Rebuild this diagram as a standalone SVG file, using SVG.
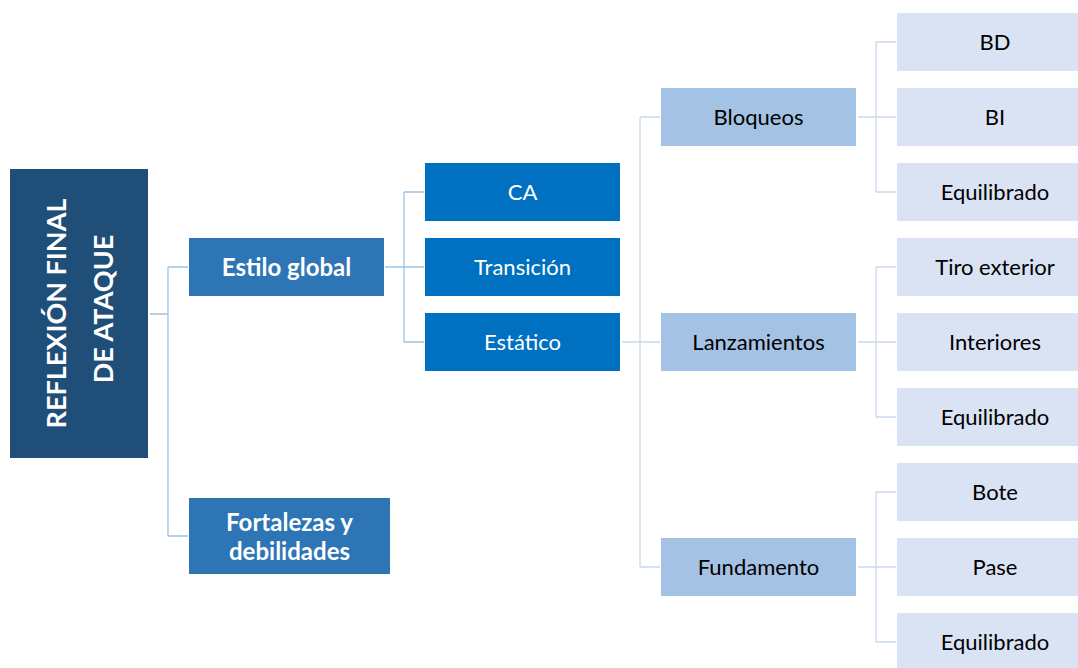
<svg xmlns="http://www.w3.org/2000/svg" width="1078" height="668" viewBox="0 0 1078 668">
<style>
text{font-family:Lato,"Liberation Sans",sans-serif;text-anchor:middle;dominant-baseline:central}
.root{fill:#1f4e79}
.l1{fill:#2e75b6}
.l2{fill:#0070c0}
.l3{fill:#a4c2e4}
.l4{fill:#dae3f3}
.w{fill:#ffffff;font-size:22px}
.wb{fill:#ffffff;font-size:24px;font-weight:bold}
.k{fill:#000000;font-size:22px}
.c1{fill:none;stroke:#9dc3e6;stroke-width:1.3}
.c2{fill:none;stroke:#c9d8ef;stroke-width:1.3}
</style>
<rect width="1078" height="668" fill="#ffffff"/>
<g id="connectors">
<path class="c1" d="M150 314H168M168 267V536M168 267H188M168 536H188"/>
<path class="c1" d="M385 267H404M404 192V342M404 192H424M404 267H424M404 342H424"/>
<path class="c2" d="M622 342H640M640 117V567M640 117H660M640 342H660M640 567H660"/>
<path class="c2" d="M858 117H876M876 42V192M876 42H896M876 117H896M876 192H896"/>
<path class="c2" d="M858 342H876M876 267V417M876 267H896M876 342H896M876 417H896"/>
<path class="c2" d="M858 567H876M876 492V642M876 492H896M876 567H896M876 642H896"/>
</g>
<g id="root">
<rect class="root" x="10" y="169" width="138" height="289"/>
<text fill="#ffffff" font-size="27" font-weight="bold" transform="translate(55 313.5) rotate(-90)">REFLEXIÓN FINAL</text>
<text fill="#ffffff" font-size="27" font-weight="bold" transform="translate(102 309) rotate(-90)">DE ATAQUE</text>
</g>
<g id="estilo-global"><rect class="l1" x="189" y="238" width="195" height="58"/><text class="wb" x="286.5" y="266.5">Estilo global</text></g>
<g id="fortalezas"><rect class="l1" x="189" y="498" width="201" height="76"/><text class="wb" x="289.5" y="521">Fortalezas y</text><text class="wb" x="289.5" y="550">debilidades</text></g>
<g id="ca"><rect class="l2" x="425" y="163" width="195" height="58"/><text class="w" x="522.5" y="191.5">CA</text></g>
<g id="transicion"><rect class="l2" x="425" y="238" width="195" height="58"/><text class="w" x="522.5" y="266.5">Transición</text></g>
<g id="estatico"><rect class="l2" x="425" y="313" width="195" height="58"/><text class="w" x="522.5" y="341.5">Estático</text></g>
<g id="bloqueos"><rect class="l3" x="661" y="88" width="195" height="58"/><text class="k" x="758.5" y="116.5">Bloqueos</text></g>
<g id="lanzamientos"><rect class="l3" x="661" y="313" width="195" height="58"/><text class="k" x="758.5" y="341.5">Lanzamientos</text></g>
<g id="fundamento"><rect class="l3" x="661" y="538" width="195" height="58"/><text class="k" x="758.5" y="566.5">Fundamento</text></g>
<g id="bd"><rect class="l4" x="897" y="13" width="181" height="58"/><text class="k" x="995" y="41.5">BD</text></g>
<g id="bi"><rect class="l4" x="897" y="88" width="181" height="58"/><text class="k" x="995" y="116.5">BI</text></g>
<g id="equilibrado-1"><rect class="l4" x="897" y="163" width="181" height="58"/><text class="k" x="995" y="191.5">Equilibrado</text></g>
<g id="tiro-exterior"><rect class="l4" x="897" y="238" width="181" height="58"/><text class="k" x="995" y="266.5">Tiro exterior</text></g>
<g id="interiores"><rect class="l4" x="897" y="313" width="181" height="58"/><text class="k" x="995" y="341.5">Interiores</text></g>
<g id="equilibrado-2"><rect class="l4" x="897" y="388" width="181" height="58"/><text class="k" x="995" y="416.5">Equilibrado</text></g>
<g id="bote"><rect class="l4" x="897" y="463" width="181" height="58"/><text class="k" x="995" y="491.5">Bote</text></g>
<g id="pase"><rect class="l4" x="897" y="538" width="181" height="58"/><text class="k" x="995" y="566.5">Pase</text></g>
<g id="equilibrado-3"><rect class="l4" x="897" y="613" width="181" height="58"/><text class="k" x="995" y="641.5">Equilibrado</text></g>
</svg>
